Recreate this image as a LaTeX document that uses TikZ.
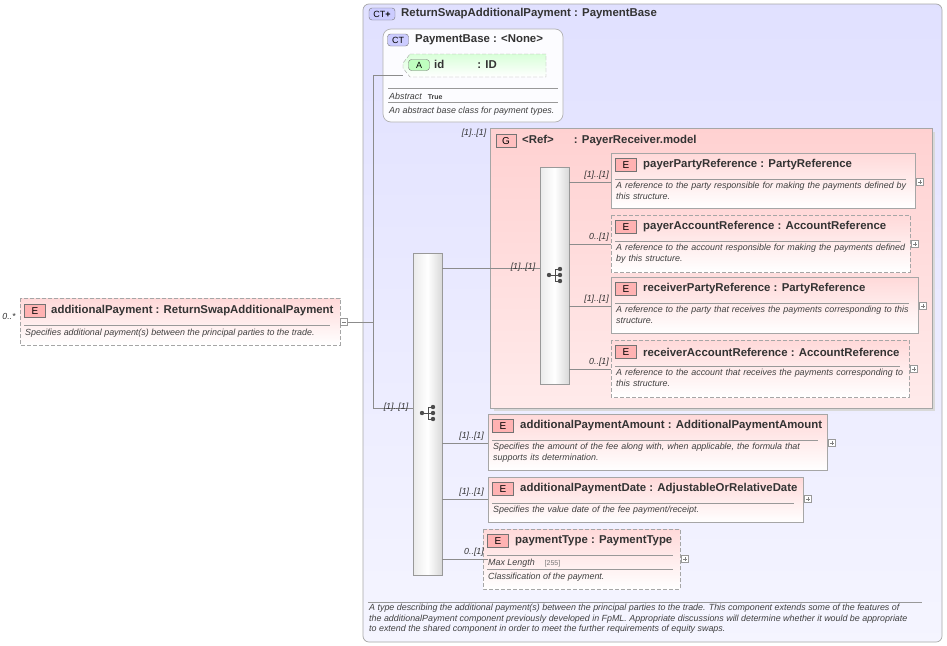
\documentclass[tikz,border=0pt]{standalone}
\usepackage{fontspec}
\setmainfont{Liberation Sans}
\begin{document}
\hyphenpenalty=10000
\begin{tikzpicture}[x=1pt,y=-1pt,
  ttl/.style={font=\bfseries\fontsize{11.4}{13}\selectfont,text=black!80,anchor=west,inner sep=0},
  dsc/.style={font=\itshape\fontsize{8.9}{10.6}\selectfont,text=black!75,anchor=north west,inner sep=0,align=left},
  card/.style={font=\itshape\fontsize{8.8}{9}\selectfont,text=black!80,inner sep=0},
  conn/.style={draw=black!45,line width=0.6pt},
  ebadge/.style={draw=black!55,fill=red!30,minimum width=21pt,minimum height=13pt,inner sep=0,font=\fontsize{10}{10}\selectfont},
  elem/.style={draw=black!35,line width=0.7pt,top color=red!15,bottom color=white},
  elemopt/.style={elem,dash pattern=on 4pt off 2pt},
  plusbox/.style={draw=black!40,fill=white,minimum size=7pt,inner sep=0},
  seqbox/.style={draw=black!40,left color=black!8,right color=black!15,middle color=white},
]
\useasboundingbox (0,0) rectangle (947,645);
% outer CT
\draw[black!35,rounded corners=6pt,line width=0.7pt,top color=blue!12,bottom color=blue!4] (363,4) rectangle (942,642);
\node[draw=black!55,fill=blue!20,rounded corners=3pt,minimum width=26pt,minimum height=12pt,inner sep=0,font=\fontsize{9}{9}\selectfont] (ctb) at (382,14) {CT\textbf{+}};
\node[ttl] (ctt) at (401,14) {ReturnSwapAdditionalPayment : PaymentBase};
% PaymentBase
\draw[black!30,rounded corners=8pt,line width=0.7pt,fill=white,fill opacity=0.9] (383,29) rectangle (563,122);
\node[draw=black!55,fill=blue!20,rounded corners=3pt,minimum width=21pt,minimum height=12pt,inner sep=0,font=\fontsize{9}{9}\selectfont] (pbb) at (398,40) {CT};
\node[ttl] (pbt) at (415,40) {PaymentBase : <None>};
\draw[black!35,dash pattern=on 4pt off 2pt,top color=green!15,bottom color=white] (410,54) -- (546,54) -- (546,77) -- (410,77) -- (403,68) -- (403,63) -- cycle;
\node[draw=black!55,fill=green!25,rounded corners=3pt,minimum width=21pt,minimum height=11pt,inner sep=0,font=\fontsize{9}{9}\selectfont] (ab) at (419,65) {A};
\node[ttl] (idt) at (434,64) {id\hspace{33pt}: ID};
\draw[black!40] (388,88) -- (558,88) (388,102) -- (558,102);
\node[dsc,anchor=west] (abs) at (389,96) {Abstract\hspace{6pt}\upshape\bfseries\fontsize{7}{8}\selectfont True};
\node[dsc,anchor=west] (pbd) at (389,111) {An abstract base class for payment types.};
% left element
\draw[elemopt] (20,298) rectangle (340,345);
\node[card] (c0) at (9,316) {0..*};
\node[ebadge] (e0) at (35,311) {E};
\node[ttl] (t0) at (51,311) {additionalPayment : ReturnSwapAdditionalPayment};
\draw[black!40] (24,325) -- (330,325);
\node[dsc,anchor=west] at (25,333) {Specifies additional payment(s) between the principal parties to the trade.};
\node[plusbox] (m0) at (344,322) {};
\draw[black!50] (342,322) -- (346,322);
\coordinate (j0) at (373,322);
\coordinate (jt) at (373,75);
\coordinate (jb) at (373,408);
\draw[conn] (m0.east) -- (j0);
\draw[conn] (jt) -- (jb);
\draw[conn] (jt) -- (403,75);
% main sequence
\node[seqbox,minimum width=29pt,minimum height=322pt,inner sep=0] (seq) at (427.5,414) {};
\draw[conn] (jb) -- (seq.west|-jb);
\node[card,anchor=south] at (396,412) {[1]..[1]};
\newcommand{\seqicon}[2]{%
 \draw[black!70,line width=0.8pt] (#1-6,#2) -- (#1,#2) (#1,#2-6) -- (#1,#2+6) (#1,#2-6)--(#1+5,#2-6) (#1,#2)--(#1+5,#2) (#1,#2+6)--(#1+5,#2+6);
 \fill[black!70] (#1-6,#2) circle (2.2pt) (#1+5,#2-6) circle (2.2pt) (#1+5,#2) circle (2.2pt) (#1+5,#2+6) circle (2.2pt);}
\seqicon{428}{413}
% group
\fill[black!15] (494,132) rectangle (935,411);
\draw[black!35,line width=0.7pt,top color=red!18,bottom color=red!8] (490,128) rectangle (932,408);
\node[card] at (474,133) {[1]..[1]};
\node[draw=black!55,fill=red!25,minimum width=20pt,minimum height=13pt,inner sep=0,font=\fontsize{10}{10}\selectfont] (gb) at (506,141) {G};
\node[ttl] (gt) at (522,141) {<Ref>\hspace{20pt}: PayerReceiver.model};
\node[seqbox,minimum width=29pt,minimum height=217pt,inner sep=0] (seq2) at (554.5,275.5) {};
\seqicon{555}{275}
\draw[conn] (seq.east|-0,268) -- (seq2.west|-0,268);
\node[card,anchor=south] at (523,272) {[1]..[1]};
% children
\newcommand{\child}[9]{% style x1 y1 x2 y2 card title desc liney
 \draw[#1] (#2,#3) rectangle (#4,#5);
 \node[ebadge] at (#2+15,#3+12) {E};
 \node[ttl] at (#2+32,#3+12) {#7};
 \draw[black!40] (#2+4,#3+26) -- (#4-9,#3+26);
 \node[dsc,text width=#4-#2-8pt] at (#2+5,#3+29) {#8};
 \node[plusbox] at (#4+5,#9) {};
 \draw[black!50] (#4+3,#9) -- (#4+7,#9) (#4+5,#9-2) -- (#4+5,#9+2);}
\child{elem}{611}{153}{915}{208}{}{payerPartyReference : PartyReference}{A reference to the party responsible for making the payments defined by this structure.}{182}
\child{elemopt}{611}{215}{910}{272}{}{payerAccountReference : AccountReference}{A reference to the account responsible for making the payments defined by this structure.}{244}
\child{elem}{611}{277}{918}{333}{}{receiverPartyReference : PartyReference}{A reference to the party that receives the payments corresponding to this structure.}{306}
\child{elemopt}{611}{340}{909}{397}{}{receiverAccountReference : AccountReference}{A reference to the account that receives the payments corresponding to this structure.}{369}
\foreach \yy/\cc in {182/{[1]..[1]},244/{0..[1]},306/{[1]..[1]},369/{0..[1]}}{
 \draw[conn] (seq2.east|-0,\yy) -- (611,\yy);
 \node[card,anchor=south east] at (609,\yy-2) {\cc};}
\child{elem}{488}{414}{827}{470}{}{additionalPaymentAmount : AdditionalPaymentAmount}{Specifies the amount of the fee along with, when applicable, the formula that supports its determination.}{443}
\child{elem}{488}{477}{803}{522}{}{additionalPaymentDate : AdjustableOrRelativeDate}{Specifies the value date of the fee payment/receipt.}{499}
% paymentType
\draw[elemopt] (483,529) rectangle (680,589);
\node[ebadge] at (498,541) {E};
\node[ttl] at (515,541) {paymentType : PaymentType};
\draw[black!40] (487,555) -- (673,555) (487,569) -- (673,569);
\node[dsc,anchor=west] at (488,563) {Max Length\hspace{10pt}\upshape\fontsize{7}{8}\selectfont\color{black!55}[255]};
\node[dsc,anchor=west] at (488,577) {Classification of the payment.};
\node[plusbox] at (685,559) {};
\draw[black!50] (683,559) -- (687,559) (685,557) -- (685,561);
\foreach \yy/\cc in {443/{[1]..[1]},499/{[1]..[1]},559/{0..[1]}}{
 \draw[conn] (seq.east|-0,\yy) -- ++(46,0);
 \node[card,anchor=south east] at (484,\yy-2) {\cc};}
% bottom description
\draw[black!40] (368,602) -- (922,602);
\node[dsc] at (369,604) {A type describing the additional payment(s) between the principal parties to the trade. This component extends some of the features of\\the additionalPayment component previously developed in FpML. Appropriate discussions will determine whether it would be appropriate\\to extend the shared component in order to meet the further requirements of equity swaps.};
\end{tikzpicture}
\end{document}
